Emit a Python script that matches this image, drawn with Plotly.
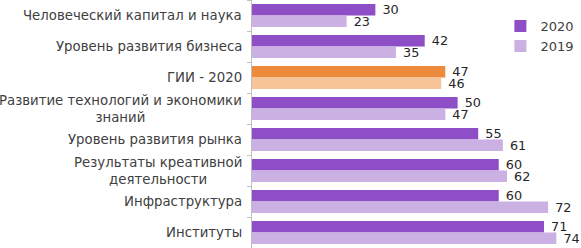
import plotly.graph_objects as go

categories = [
    "Человеческий капитал и наука",
    "Уровень развития бизнеса",
    "ГИИ - 2020",
    "Развитие технологий и экономики<br>знаний",
    "Уровень развития рынка",
    "Результаты креативной<br>деятельности",
    "Инфраструктура",
    "Институты",
]
values_2020 = [30, 42, 47, 50, 55, 60, 60, 71]
values_2019 = [23, 35, 46, 47, 61, 62, 72, 74]
highlight = "ГИИ - 2020"

c2020, c2019 = "#8E4EC6", "#CBB0E3"
h2020, h2019 = "#EE8A3C", "#F6C497"
colors_2020 = [h2020 if c == highlight else c2020 for c in categories]
colors_2019 = [h2019 if c == highlight else c2019 for c in categories]

font = "DejaVu Sans, Verdana, sans-serif"

fig = go.Figure()
for name, vals, cols in [("2020", values_2020, colors_2020), ("2019", values_2019, colors_2019)]:
    fig.add_trace(go.Bar(
        y=categories, x=vals, orientation="h", name=name,
        marker=dict(color=cols, line=dict(width=0)),
        text=vals, texttemplate=" %{x}", textposition="outside",
        constraintext="none",
        textfont=dict(size=12.8, color="#262626", family=font), cliponaxis=False,
    ))

for c in categories:
    fig.add_annotation(
        x=0, xref="paper", y=c, yref="y", text=c, showarrow=False,
        xanchor="right", align="center", xshift=-8,
        font=dict(size=13.3, color="#404040", family=font),
    )

fig.update_layout(
    width=581, height=248,
    margin=dict(l=252, r=0, t=0, b=0),
    barmode="group", bargap=0.26, bargroupgap=0,
    plot_bgcolor="white", paper_bgcolor="white",
    font=dict(family=font, size=13, color="#404040"),
    legend=dict(x=0.755, y=0.955, xanchor="left", yanchor="top",
                bgcolor="rgba(0,0,0,0)", font=dict(size=13, color="#404040"),
                itemwidth=30, tracegroupgap=0),
    showlegend=True,
)
fig.update_xaxes(range=[0, 80], visible=False)
fig.update_yaxes(range=[len(categories) - 0.5, -0.5], showticklabels=False,
                 showline=True, linecolor="#BFBFBF", linewidth=1,
                 ticks="outside", tickson="boundaries", ticklen=4,
                 tickcolor="#BFBFBF", showgrid=False)

fig.write_html("out.html", config={"displayModeBar": False},
               post_script="document.body.style.margin='0';")
